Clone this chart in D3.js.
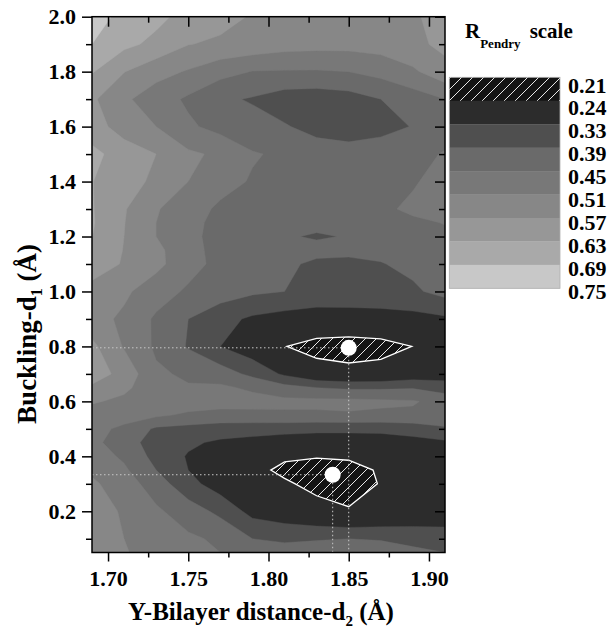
<!DOCTYPE html>
<html>
<head>
<meta charset="utf-8">
<script src="https://cdn.jsdelivr.net/npm/d3@7"></script>
<style>
  body { margin: 0; background: #fff; }
  svg text { font-family: "Liberation Serif", "Times New Roman", serif; font-weight: bold; fill: #000; }
</style>
</head>
<body>
<div id="chart"></div>
<script>
// grid columns: Y-bilayer distance d2 (Å)
var xValues = [1.69, 1.71, 1.73, 1.75, 1.77, 1.79, 1.81, 1.83, 1.85, 1.87, 1.89, 1.91];
// grid rows: buckling d1 (Å), top to bottom
var yValues = [2.0, 1.9, 1.8, 1.7, 1.6, 1.5, 1.4, 1.3, 1.25, 1.2, 1.15, 1.1, 1.0, 0.9, 0.8,
               0.7, 0.65, 0.6, 0.55, 0.5, 0.45, 0.4, 0.35, 0.3, 0.2, 0.1, 0.0];
// R-Pendry, one row per yValues entry
var rPendry = [
  [0.72, 0.67, 0.645, 0.61, 0.59, 0.565, 0.55, 0.54, 0.54, 0.55, 0.56, 0.60],
  [0.69, 0.645, 0.615, 0.572, 0.56, 0.55, 0.535, 0.53, 0.53, 0.535, 0.555, 0.585],
  [0.635, 0.572, 0.53, 0.505, 0.47, 0.448, 0.445, 0.445, 0.45, 0.47, 0.50, 0.55],
  [0.58, 0.52, 0.48, 0.44, 0.40, 0.385, 0.36, 0.355, 0.365, 0.39, 0.42, 0.45],
  [0.60, 0.54, 0.51, 0.46, 0.43, 0.41, 0.395, 0.37, 0.365, 0.375, 0.392, 0.42],
  [0.645, 0.605, 0.57, 0.52, 0.50, 0.455, 0.44, 0.42, 0.41, 0.415, 0.43, 0.455],
  [0.632, 0.59, 0.56, 0.51, 0.47, 0.445, 0.43, 0.42, 0.415, 0.425, 0.445, 0.47],
  [0.634, 0.575, 0.515, 0.475, 0.44, 0.43, 0.425, 0.42, 0.42, 0.44, 0.46, 0.47],
  [0.636, 0.572, 0.51, 0.47, 0.43, 0.425, 0.415, 0.403, 0.41, 0.425, 0.44, 0.452],
  [0.631, 0.57, 0.51, 0.465, 0.43, 0.42, 0.395, 0.385, 0.393, 0.42, 0.435, 0.44],
  [0.61, 0.568, 0.525, 0.47, 0.43, 0.415, 0.405, 0.405, 0.40, 0.405, 0.415, 0.43],
  [0.60, 0.565, 0.525, 0.475, 0.43, 0.41, 0.40, 0.38, 0.38, 0.387, 0.405, 0.42],
  [0.55, 0.52, 0.48, 0.44, 0.42, 0.40, 0.39, 0.37, 0.365, 0.37, 0.38, 0.41],
  [0.53, 0.50, 0.44, 0.39, 0.35, 0.32, 0.305, 0.30, 0.305, 0.305, 0.31, 0.32],
  [0.585, 0.505, 0.44, 0.385, 0.33, 0.29, 0.242, 0.215, 0.205, 0.215, 0.241, 0.26],
  [0.60, 0.55, 0.46, 0.44, 0.42, 0.375, 0.32, 0.273, 0.263, 0.268, 0.29, 0.30],
  [0.56, 0.52, 0.48, 0.455, 0.46, 0.44, 0.41, 0.39, 0.38, 0.38, 0.385, 0.36],
  [0.515, 0.50, 0.49, 0.48, 0.475, 0.47, 0.465, 0.465, 0.465, 0.46, 0.455, 0.43],
  [0.49, 0.47, 0.46, 0.44, 0.43, 0.435, 0.44, 0.44, 0.444, 0.44, 0.44, 0.44],
  [0.465, 0.44, 0.38, 0.37, 0.36, 0.355, 0.35, 0.345, 0.345, 0.345, 0.355, 0.38],
  [0.465, 0.42, 0.36, 0.34, 0.32, 0.31, 0.30, 0.295, 0.295, 0.30, 0.31, 0.32],
  [0.48, 0.44, 0.37, 0.325, 0.29, 0.275, 0.25, 0.244, 0.25, 0.27, 0.28, 0.28],
  [0.50, 0.46, 0.39, 0.33, 0.29, 0.26, 0.225, 0.215, 0.215, 0.248, 0.27, 0.27],
  [0.52, 0.48, 0.42, 0.35, 0.30, 0.27, 0.25, 0.22, 0.215, 0.243, 0.265, 0.27],
  [0.55, 0.50, 0.46, 0.42, 0.375, 0.31, 0.29, 0.266, 0.245, 0.26, 0.28, 0.29],
  [0.56, 0.51, 0.48, 0.46, 0.44, 0.39, 0.38, 0.385, 0.39, 0.385, 0.37, 0.36],
  [0.57, 0.52, 0.49, 0.48, 0.46, 0.45, 0.45, 0.46, 0.47, 0.46, 0.44, 0.42]
];
var levels = [0.21, 0.24, 0.33, 0.39, 0.45, 0.51, 0.57, 0.63, 0.69, 0.75];
var levelColors = ["#141414", "#2c2c2c", "#4f4f4f", "#6a6a6a", "#787878", "#878787", "#979797", "#a9a9a9", "#c8c8c8"];
var xTicks = [1.70, 1.75, 1.80, 1.85, 1.90];
var xMinor = [1.725, 1.775, 1.825, 1.875];
var yTicks = [0.2, 0.4, 0.6, 0.8, 1.0, 1.2, 1.4, 1.6, 1.8, 2.0];
var yMinor = [0.1, 0.3, 0.5, 0.7, 0.9, 1.1, 1.3, 1.5, 1.7, 1.9];
// best-fit structures marked with white dots
var bestD2 = [1.85, 1.84];
var bestD1 = [0.795, 0.333];

var W = 608, H = 639;
var pLeft = 92, pRight = 445, pTop = 16.7, pBottom = 552.5;

var svg = d3.select("#chart").append("svg").attr("width", W).attr("height", H);
var defs = svg.append("defs");

var x = d3.scaleLinear().domain([1.69, 1.91]).range([pLeft, pRight]);
var y = d3.scaleLinear().domain([0.05, 2.0]).range([pBottom, pTop]);

defs.append("clipPath").attr("id", "plotclip")
  .append("rect").attr("x", pLeft).attr("y", pTop)
  .attr("width", pRight - pLeft).attr("height", pBottom - pTop);

// diagonal hatching for the lowest band
var pat = defs.append("pattern").attr("id", "hatch")
  .attr("patternUnits", "userSpaceOnUse").attr("width", 11).attr("height", 11);
pat.append("rect").attr("width", 11).attr("height", 11).attr("fill", levelColors[0]);
pat.append("path").attr("d", "M-2,2 L2,-2 M0,11 L11,0 M9,13 L13,9")
  .attr("stroke", "#fff").attr("stroke-width", 0.9);

// contour grid -> pixel (d3.contours puts value i at coordinate i + 0.5)
var nx = xValues.length, ny = yValues.length;
var colPx = d3.scaleLinear().domain(d3.range(nx)).range(xValues.map(x));
var rowPx = d3.scaleLinear().domain(d3.range(ny)).range(yValues.map(y));
var proj = d3.geoTransform({
  point: function(px, py) { this.stream.point(colPx(px - 0.5), rowPx(py - 0.5)); }
});
var path = d3.geoPath(proj);

var flat = [];
rPendry.forEach(function(row) { row.forEach(function(v) { flat.push(v); }); });

var plot = svg.append("g").attr("clip-path", "url(#plotclip)");

plot.append("rect").attr("x", pLeft).attr("y", pTop)
  .attr("width", pRight - pLeft).attr("height", pBottom - pTop)
  .attr("fill", "url(#hatch)");

var bands = d3.contours().size([nx, ny]).thresholds(levels.slice(1, -1))(flat);
plot.selectAll("path.band")
  .data(bands)
  .enter().append("path")
  .attr("class", "band")
  .attr("d", path)
  .attr("fill", function(d) { return levelColors[levels.indexOf(d.value)]; })
  .attr("stroke", function(d) { return levelColors[levels.indexOf(d.value)]; })
  .attr("stroke-width", 0.4);

// white outline round the hatched minima
var lows = d3.contours().size([nx, ny]).thresholds([-levels[1]])(flat.map(function(v) { return -v; }));
plot.selectAll("path.low")
  .data(lows)
  .enter().append("path")
  .attr("class", "low")
  .attr("d", path)
  .attr("fill", "none")
  .attr("stroke", "#fff")
  .attr("stroke-width", 1.3);

// dotted guide lines to the best fits
bestD2.forEach(function(d2, i) {
  plot.append("line")
    .attr("x1", pLeft).attr("x2", x(d2))
    .attr("y1", y(bestD1[i])).attr("y2", y(bestD1[i]))
    .attr("stroke", "#c8c8c8").attr("stroke-width", 1).attr("stroke-dasharray", "1.5,2.5");
  plot.append("line")
    .attr("x1", x(d2)).attr("x2", x(d2))
    .attr("y1", y(bestD1[i])).attr("y2", pBottom)
    .attr("stroke", "#c8c8c8").attr("stroke-width", 1).attr("stroke-dasharray", "1.5,2.5");
});
plot.selectAll("circle.best")
  .data(bestD2)
  .enter().append("circle")
  .attr("class", "best")
  .attr("cx", function(d) { return x(d); })
  .attr("cy", function(d, i) { return y(bestD1[i]); })
  .attr("r", 8)
  .attr("fill", "#fff");

// axes
function styleAxis(g) {
  g.selectAll("path.domain").remove();
  g.selectAll("line").attr("stroke", "#000").attr("stroke-width", 1.5);
  g.selectAll("text").attr("font-size", 22).attr("font-family", null).attr("fill", "#000");
}

svg.append("g").attr("transform", "translate(" + pLeft + ",0)")
  .call(d3.axisLeft(y).tickValues(yTicks).tickFormat(d3.format(".1f")).tickSize(10).tickPadding(6))
  .call(styleAxis);
svg.append("g").attr("transform", "translate(" + pLeft + ",0)")
  .call(d3.axisLeft(y).tickValues(yMinor).tickFormat("").tickSize(6))
  .call(styleAxis);
svg.append("g").attr("transform", "translate(" + pRight + ",0)")
  .call(d3.axisLeft(y).tickValues(yTicks).tickFormat("").tickSize(10))
  .call(styleAxis);
svg.append("g").attr("transform", "translate(" + pRight + ",0)")
  .call(d3.axisLeft(y).tickValues(yMinor).tickFormat("").tickSize(6))
  .call(styleAxis);

svg.append("g").attr("transform", "translate(0," + pBottom + ")")
  .call(d3.axisBottom(x).tickValues(xTicks).tickFormat(d3.format(".2f")).tickSize(9).tickPadding(9))
  .call(styleAxis);
svg.append("g").attr("transform", "translate(0," + pBottom + ")")
  .call(d3.axisBottom(x).tickValues(xMinor).tickFormat("").tickSize(5))
  .call(styleAxis);
svg.append("g").attr("transform", "translate(0," + pTop + ")")
  .call(d3.axisBottom(x).tickValues(xTicks).tickFormat("").tickSize(10))
  .call(styleAxis);
svg.append("g").attr("transform", "translate(0," + pTop + ")")
  .call(d3.axisBottom(x).tickValues(xMinor).tickFormat("").tickSize(6))
  .call(styleAxis);

svg.append("rect")
  .attr("x", pLeft).attr("y", pTop)
  .attr("width", pRight - pLeft).attr("height", pBottom - pTop)
  .attr("fill", "none").attr("stroke", "#000").attr("stroke-width", 1.5);

// axis titles
var xt = svg.append("text").attr("x", 261).attr("y", 620)
  .attr("text-anchor", "middle").attr("font-size", 25);
xt.append("tspan").text("Y-Bilayer distance-d");
xt.append("tspan").attr("font-size", 15).attr("dy", 6).text("2");
xt.append("tspan").attr("dy", -6).text(" (Å)");

var yt = svg.append("text").attr("transform", "translate(36,334) rotate(-90)")
  .attr("text-anchor", "middle").attr("font-size", 27);
yt.append("tspan").text("Buckling-d");
yt.append("tspan").attr("font-size", 16).attr("dy", 6).text("1");
yt.append("tspan").attr("dy", -6).text(" (Å)");

// legend
var lx0 = 449.3, lx1 = 560;
var legY = d3.scaleLinear().domain([0, levels.length - 1]).range([77.3, 288.3]);
var labY = d3.scaleLinear().domain([0, levels.length - 1]).range([85, 291.7]);

var legend = svg.append("g");
legend.selectAll("rect.key")
  .data(levelColors)
  .enter().append("rect")
  .attr("class", "key")
  .attr("x", lx0)
  .attr("y", function(d, i) { return legY(i); })
  .attr("width", lx1 - lx0)
  .attr("height", function(d, i) { return legY(i + 1) - legY(i) + 0.3; })
  .attr("fill", function(d, i) { return i === 0 ? "url(#hatch)" : d; });
legend.append("rect")
  .attr("x", lx0).attr("y", legY(0))
  .attr("width", lx1 - lx0).attr("height", legY(levels.length - 1) - legY(0))
  .attr("fill", "none").attr("stroke", "#b0b0b0").attr("stroke-width", 0.8);

legend.selectAll("text.lab")
  .data(levels)
  .enter().append("text")
  .attr("class", "lab")
  .attr("x", 568)
  .attr("y", function(d, i) { return labY(i) + 7.5; })
  .attr("font-size", 22)
  .text(function(d) { return d3.format(".2f")(d); });

var lt = legend.append("text").attr("x", 465).attr("y", 38).attr("font-size", 21);
lt.append("tspan").text("R");
lt.append("tspan").attr("font-size", 13).attr("dy", 10).text("Pendry");
lt.append("tspan").attr("dy", -10).attr("dx", 9).text("scale");
</script>
</body>
</html>
